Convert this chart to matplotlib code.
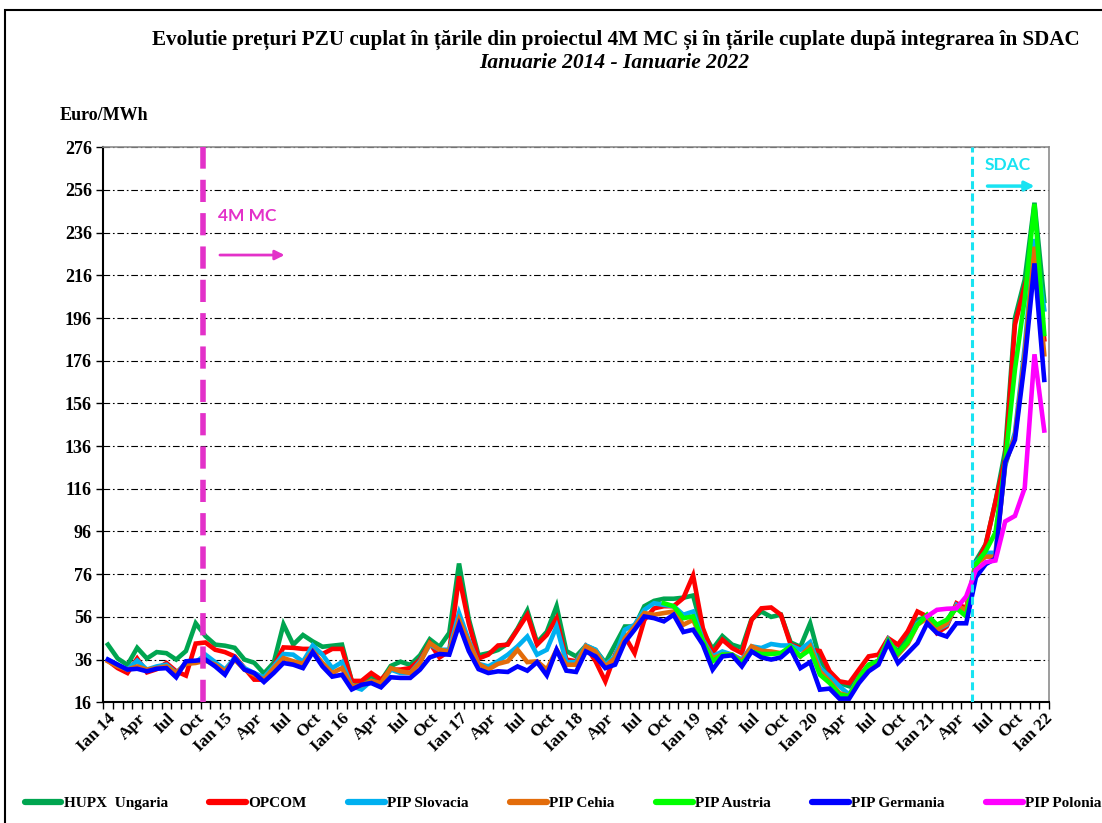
import numpy as np
import matplotlib
matplotlib.use("Agg")
import matplotlib.pyplot as plt
from matplotlib.patches import Rectangle
from matplotlib.lines import Line2D

# monthly PZU prices, Euro/MWh, Ian 2014 .. Ian 2022 (97 months)
hupx = [43, 36.5, 33.5, 41.5, 36.5, 39.5, 39, 36, 40, 53, 47, 43,
        42.5, 41.5, 36, 34.5, 29.5, 34.5, 52.5, 43, 47.5, 44.5, 42, 42.5,
        43, 26, 25, 27.5, 26, 33, 35, 33.5, 38, 45.5, 42, 48.5,
        81, 55, 38, 39, 40.5, 43.5, 50.5, 59, 44, 49, 61, 40,
        37.5, 42.5, 40.5, 34.5, 43, 51.5, 51.5, 61, 63.5, 64.5, 64.5, 65,
        66, 49, 41, 47, 43, 41.5, 55, 58.5, 56, 57, 44, 42,
        53, 36, 29, 25, 23.5, 28, 33.5, 35.5, 45.3, 39.8, 46, 54.6,
        56, 51.5, 54, 61.6, 59.3, 82.4, 90, 110, 134, 196, 214, 250,
        204]
opcom = [35.5, 32, 29.7, 36.5, 30, 31.5, 34.4, 30.5, 28.5, 43.5, 44, 40.6,
         39.5, 37.5, 32, 26.6, 26.6, 32.8, 41.7, 41.5, 41, 41, 38.6, 41,
         41, 26, 26, 29.7, 26.6, 31.3, 31.3, 32, 36, 43.7, 37, 40,
         75, 53, 36.5, 38.3, 42.6, 43, 50, 57, 43, 47.6, 55.4, 36,
         35.2, 42.2, 35.2, 25.8, 38.3, 46.8, 39, 54.6, 60, 61, 61, 64.8,
         75.4, 50.7, 39, 45.3, 41.4, 39, 54.6, 60, 60.4, 57, 43, 41.4,
         40.6, 40, 30.5, 25.8, 25, 31.3, 37.5, 38.3, 46, 43, 49.2, 58.5,
         56.2, 48.4, 51.5, 62.4, 60, 80, 90, 110, 130, 192.9, 211, 228,
         186]
slovacia = [36, 33.6, 31.3, 35.5, 31.3, 32.8, 33.6, 29.7, 34.4, 34.8, 38.3, 34.8,
            31.3, 36.7, 32, 29.7, 27.7, 32.8, 38.6, 38.3, 35, 42.6, 38.3, 32,
            34.8, 23.5, 22, 26, 24.2, 31.3, 29.7, 29.7, 35.2, 43, 40.6, 40.6,
            57.8, 45, 34, 32.8, 35.2, 38.3, 42.2, 46.8, 38.3, 40.6, 51.5, 34.8,
            34.8, 42.6, 40.6, 33.6, 37.5, 50, 52.3, 59.3, 62.4, 61.6, 61, 57,
            58.5, 45.3, 37.5, 39.8, 38.3, 36, 42.2, 41.4, 43.3, 42.6, 42.6, 40.6,
            44.2, 32, 28.1, 23.5, 19.6, 27.4, 32.8, 35.2, 45.3, 38.3, 43.7, 53,
            56.2, 50, 52.3, 61.6, 58.5, 81.6, 86, 86, 126.8, 142.4, 182.4, 233,
            200]
cehia = [35.2, 32.8, 31.3, 32.8, 31.3, 32, 32.8, 29.7, 34, 34.4, 35.5, 33.6,
         30.5, 36, 31.3, 28.9, 26.6, 32, 36.7, 35.2, 34, 40, 34.4, 29.7,
         32, 23.5, 24, 26, 25, 32, 30.5, 29.7, 34.4, 43.7, 40.6, 39.8,
         54.6, 44, 34, 31.3, 34, 35.2, 40.6, 34.8, 35.2, 31.3, 40.6, 33.6,
         33.6, 42.2, 39.8, 32.8, 36.7, 46, 51.5, 57.8, 57, 57.8, 58.5, 52.3,
         54.6, 44.5, 36.7, 38.3, 38.3, 35.2, 42.2, 40.1, 39.8, 39, 41.4, 37.5,
         42.2, 30.5, 25.8, 20.3, 18.8, 27.4, 33, 35, 44.8, 38.3, 43.3, 52.3,
         55.4, 50, 53, 60.9, 59.3, 80.7, 84.2, 84.2, 127.7, 140.7, 179, 229.4,
         179]
germania = [36, 33.6, 31.3, 31.7, 30.5, 31.7, 32, 27.7, 35.2, 35.5, 36, 32.8,
            28.9, 36.7, 31.3, 29.7, 25.5, 29.7, 34.4, 33.6, 32, 39.5, 32.8, 28,
            28.9, 22, 24.2, 25, 23, 27.7, 27.4, 27.4, 31.3, 37, 38.6, 38.3,
            52.3, 40, 31.5, 29.7, 30.5, 30.2, 32.8, 30.8, 34.8, 28.6, 40.6, 30.8,
            30.2, 39.8, 37.5, 32, 33.6, 44.2, 50, 56.2, 55.4, 53.9, 57, 48.9,
            50, 43, 31.3, 37.5, 38, 32.8, 39.8, 37, 36, 37, 41, 32,
            34.8, 21.9, 22.4, 17.7, 17.7, 25, 30.5, 33.6, 43.7, 34.4, 39, 43.7,
            53, 48.4, 46.8, 53, 53, 74.6, 80.7, 83.3, 128.5, 139, 175.5, 221.6,
            167]
# Austria shown from Oct 18 (month 57), Polonia from Ian 21 (month 84)
austria_start = 57
austria = [62.4, 61, 55.4, 56.2, 44.5, 35.2, 38.3, 38.3, 34.4, 39.8, 38.6, 38.6,
           39, 42.2, 37.5, 40.6, 28.9, 25, 19.6, 18.8, 27.4, 33.6, 35.3, 44.8,
           39, 44.2, 52.3, 57, 52.3, 54.6, 60, 56.2, 80.7, 86.8, 95.5, 128.5,
           172, 205, 249.4, 188.5]
polonia_start = 84
polonia = [56.2, 59.3, 59.8, 60, 65.6, 78, 81.6, 82.4, 100.7, 103.3, 116.4, 179, 143.3]

tick_labels = ["Ian 14", "Apr", "Iul", "Oct", "Ian 15", "Apr", "Iul", "Oct",
               "Ian 16", "Apr", "Iul", "Oct", "Ian 17", "Apr", "Iul", "Oct",
               "Ian 18", "Apr", "Iul", "Oct", "Ian 19", "Apr", "Iul", "Oct",
               "Ian 20", "Apr", "Iul", "Oct", "Ian 21", "Apr", "Iul", "Oct", "Ian 22"]

MC4M_AT = 9.75   # 4M MC start (Nov 2014)
SDAC_AT = 88.6   # SDAC integration (Jun 2021)

serif = "Liberation Serif"
pink = "#E331C9"
cyan = "#19E3F2"

fig = plt.figure(figsize=(11.02, 8.23), dpi=100)
ax = fig.add_axes([0.0935, 0.1467, 0.8585, 0.6744])

series = [
    ("HUPX  Ungaria", hupx, 0, "#00A550"),
    ("OPCOM", opcom, 0, "#FF0000"),
    ("PIP Slovacia", slovacia, 0, "#00B0F0"),
    ("PIP Cehia", cehia, 0, "#E36C0A"),
    ("PIP Austria", austria, austria_start, "#00FF00"),
    ("PIP Germania", germania, 0, "#0000FF"),
    ("PIP Polonia", polonia, polonia_start, "#FF00FF"),
]
handles = []
for name, vals, start, col in series:
    x = np.arange(start, start + len(vals))
    ax.plot(x, vals, color=col, lw=3.3, solid_joinstyle="miter", zorder=3)
    handles.append(Line2D([], [], color=col, lw=4.5, solid_capstyle="round"))

ax.set_xlim(-0.5, 96.5)
ax.set_ylim(16, 276)

# grid + axes
ax.set_yticks(range(16, 277, 20))
ax.yaxis.grid(True, color="black", lw=0.8, linestyle=(0, (6, 2.5, 1.5, 2.5)))
ax.set_axisbelow(True)
for s in ["top", "right"]:
    ax.spines[s].set_color("#8c8c8c")
    ax.spines[s].set_linewidth(1.2)
for s in ["left", "bottom"]:
    ax.spines[s].set_linewidth(1.5)

ax.set_xticks(range(0, 97, 3))
ax.set_xticklabels(tick_labels, rotation=45, ha="right", va="top", rotation_mode="anchor",
                   fontfamily=serif, fontweight="bold", fontsize=12.5)
ax.set_xticks(np.arange(-0.5, 97, 1), minor=True)
ax.tick_params(axis="x", which="major", length=0, pad=6)
ax.tick_params(axis="x", which="minor", length=5, width=1, direction="out")
ax.tick_params(axis="y", length=5, width=1, direction="out", pad=3)
for lab in ax.get_yticklabels():
    lab.set_fontfamily(serif)
    lab.set_fontweight("bold")
    lab.set_fontsize(13)

# 4M MC and SDAC markers
ax.axvline(MC4M_AT, color=pink, lw=4, dashes=(4, 2), zorder=4)
ax.axvline(SDAC_AT, color=cyan, lw=2.2, dashes=(2.6, 1.4), zorder=4)
ax.text(11.3, 244, "4M MC", color=pink, fontfamily="Lato", fontweight="bold",
        fontsize=12.5, va="center", ha="left")
ax.annotate("", xy=(18.4, 225.5), xytext=(11.2, 225.5),
            arrowprops=dict(arrowstyle="-|>", color=pink, lw=2, mutation_scale=14))
ax.text(89.9, 267.5, "SDAC", color=cyan, fontfamily="Lato", fontweight="bold",
        fontsize=12.5, va="center", ha="left")
ax.annotate("", xy=(95.3, 257.8), xytext=(89.9, 257.8),
            arrowprops=dict(arrowstyle="-|>", color=cyan, lw=2.5, mutation_scale=14))

# titles
fig.text(0.559, 1 - 40 / 823, "Evolutie prețuri PZU cuplat în țările din proiectul 4M MC și în țările cuplate după integrarea în SDAC",
         ha="center", va="center", fontfamily=serif, fontweight="bold", fontsize=15.2)
fig.text(0.557, 1 - 63 / 823, "Ianuarie 2014 - Ianuarie 2022", ha="center", va="center",
         fontfamily=serif, fontweight="bold", fontstyle="italic", fontsize=15.5)
fig.text(60 / 1102, 1 - 115 / 823, "Euro/MWh", ha="left", va="center",
         fontfamily=serif, fontweight="bold", fontsize=13)

fig.legend(handles, [s[0] for s in series], loc="center", bbox_to_anchor=(0.511, 1 - 803 / 823),
           ncol=7, frameon=False, handlelength=2.4, handletextpad=0.15, columnspacing=2.72,
           prop=dict(family=serif, weight="bold", size=11))

# outer frame
fig.patches.append(Rectangle((5 / 1102, -0.1), 1.2, 1.1 - 10 / 823, transform=fig.transFigure,
                             fill=False, ec="black", lw=1.5))

fig.savefig("out.png", dpi=100)
